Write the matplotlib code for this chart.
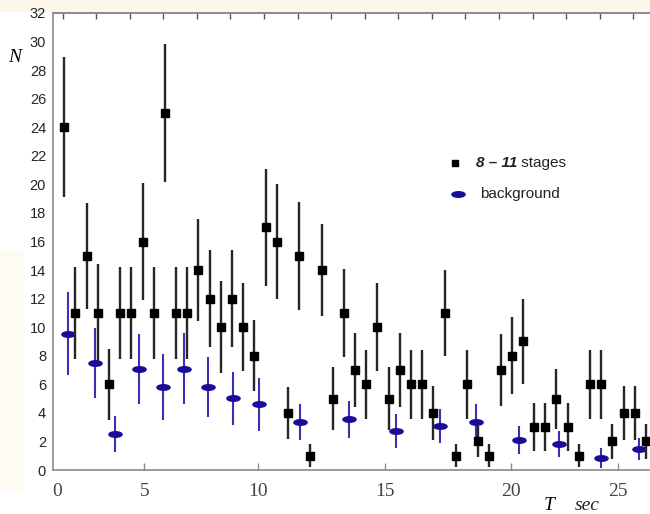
import matplotlib
matplotlib.use("Agg")
import matplotlib.pyplot as plt
from matplotlib.markers import MarkerStyle
from matplotlib.patches import Rectangle
from matplotlib.transforms import Affine2D, blended_transform_factory
import numpy as np

# ---------------------------------------------------------------- data
# 8-11 stages: counts in 0.5 s bins
sig_t = [0.5 * k for k in range(1, 54)]
sig_n = [24, 11, 15, 11, 6, 11, 11, 16, 11, 25, 11, 11, 14, 12, 10, 12, 10, 8, 17, 16,
         4, 15, 1, 14, 5, 11, 7, 6, 10, 5, 7, 6, 6, 4, 11, 1, 6, 2, 1, 7,
         8, 9, 3, 3, 5, 3, 1, 6, 6, 2, 4, 4, 2]
sig_err = [4.9, 3.2, 3.7, 3.4, 2.5, 3.2, 3.2, 4.1, 3.2, 4.8, 3.2, 3.2, 3.6, 3.4, 3.2, 3.4,
           3.1, 2.5, 4.1, 4.0, 1.8, 3.8, 0.8, 3.2, 2.2, 3.1, 2.6, 2.4, 3.1, 2.2, 2.6, 2.4,
           2.4, 1.9, 3.0, 0.8, 2.4, 1.1, 0.8, 2.5, 2.7, 3.0, 1.7, 1.7, 2.1, 1.7, 0.8, 2.4,
           2.4, 1.2, 1.9, 1.9, 1.2]

# background
bg_t = [0.68, 1.88, 2.78, 3.86, 4.91, 5.85, 6.93, 8.06, 9.22, 11.04, 13.24, 15.33,
        17.29, 18.89, 20.81, 22.62, 24.49, 26.2]
bg_n = [9.53, 7.49, 2.51, 7.09, 5.81, 7.09, 5.81, 5.02, 4.6, 3.34, 3.55, 2.73,
        3.1, 3.34, 2.1, 1.82, 0.86, 1.47]
bg_err = [2.9, 2.45, 1.25, 2.45, 2.3, 2.5, 2.1, 1.85, 1.85, 1.25, 1.3, 1.2,
          1.2, 1.3, 0.95, 0.9, 0.7, 0.8]

# bottom axis labels (as placed in the original figure)
x_tick_pos = [4.08, 9.17, 14.83, 20.45, 25.26]
x_tick_lbl = ["5", "10", "15", "20", "25"]
y_ticks = list(range(0, 33, 2))

SPINE = "#8a8a8a"
BLUE_BAR = "#3d2fb5"
BLUE_MK = "#1a0c9a"

fig = plt.figure(figsize=(6.5, 5.14), dpi=100)
fig.patch.set_facecolor("white")
# cream paper strips round the plot
fig.patches.append(Rectangle((0, 1 - 12 / 514), 1, 12 / 514, transform=fig.transFigure,
                             facecolor="#fdf7ea", edgecolor="none", zorder=-5))
fig.patches.append(Rectangle((0, 24 / 514), 24 / 650, 240 / 514, transform=fig.transFigure,
                             facecolor="#fefbf3", edgecolor="none", zorder=-5))

ax = fig.add_axes([53 / 650, 1 - 470 / 514, 597 / 650, 457 / 514])
ax.set_xlim(0, 26.68)
ax.set_ylim(0, 32)

# background points: blue ellipses
ellipse = MarkerStyle("o", transform=Affine2D().scale(1.0, 0.42))
ax.errorbar(bg_t, bg_n, yerr=bg_err, fmt="none", ecolor=BLUE_BAR, elinewidth=1.5,
            capsize=0, zorder=2)
ax.plot(bg_t, bg_n, linestyle="none", marker=ellipse, markersize=9.5,
        color=BLUE_MK, zorder=3)

# 8-11 stages: black squares
ax.errorbar(sig_t, sig_n, yerr=sig_err, fmt="none", ecolor="#262626", elinewidth=1.7,
            capsize=0, zorder=4)
ax.plot(sig_t, sig_n, linestyle="none", marker="s", markersize=5.5,
        color="black", zorder=5)

# axes styling
for side in ("left", "bottom", "top"):
    ax.spines[side].set_color(SPINE)
    ax.spines[side].set_linewidth(1.2)
ax.spines["right"].set_visible(False)

ax.set_yticks(y_ticks)
ax.set_yticklabels([str(v) for v in y_ticks], fontsize=10.5, color="#262626",
                   family="Liberation Sans")
ax.tick_params(axis="y", length=0, pad=5)

ax.set_xticks(x_tick_pos)
ax.set_xticklabels(x_tick_lbl, fontsize=14, family="Liberation Serif", color="#444444")
ax.tick_params(axis="x", direction="in", length=5, width=1, color=SPINE, pad=9)
trans = blended_transform_factory(ax.transData, ax.transAxes)
ax.text(0.18, -0.028, "0", transform=trans, ha="center", va="top", fontsize=14,
        family="Liberation Serif", color="#444444")

top = ax.secondary_xaxis("top")
top.set_xticks(np.arange(0.43, 26.5, 1.5))
top.set_xticklabels([])
top.tick_params(direction="in", length=4, width=1, color="#555555")
top.spines["top"].set_color(SPINE)
top.spines["top"].set_linewidth(1.2)

# axis titles
fig.text(15 / 650, 1 - 57 / 514, "N", fontsize=14, style="italic",
         family="Liberation Serif", ha="center", va="center")
fig.text(549 / 650, 1 - 505 / 514, "T", fontsize=14, style="italic",
         family="Liberation Serif", ha="center", va="center")
fig.text(587 / 650, 1 - 506 / 514, "sec", fontsize=14, style="italic",
         family="Liberation Serif", ha="center", va="center", color="#222222")

# legend drawn by hand (mixed bold-italic / regular text)
lx, ly1, ly2 = (455 - 53) / 597, (470 - 163) / 457, (470 - 194) / 457
ax.plot([lx], [ly1], marker="s", markersize=5, color="black", transform=ax.transAxes,
        linestyle="none", clip_on=False)
ax.plot([lx + 0.005], [ly2], marker=ellipse, markersize=9.5, color=BLUE_MK,
        transform=ax.transAxes, linestyle="none", clip_on=False)
t1 = ax.text((476 - 53) / 597, ly1, "8 \u2013 11", transform=ax.transAxes, fontsize=11,
             fontweight="bold", style="italic", family="Liberation Sans",
             va="center", ha="left", color="#222222")
ax.annotate(" stages", xy=(1, 0.5), xycoords=t1, va="center", ha="left", fontsize=11,
            family="Liberation Sans", color="#222222")
ax.text((480 - 53) / 597, ly2, "background", transform=ax.transAxes, fontsize=11,
        family="Liberation Sans", va="center", ha="left", color="#222222")

fig.savefig("out.png", dpi=100)
